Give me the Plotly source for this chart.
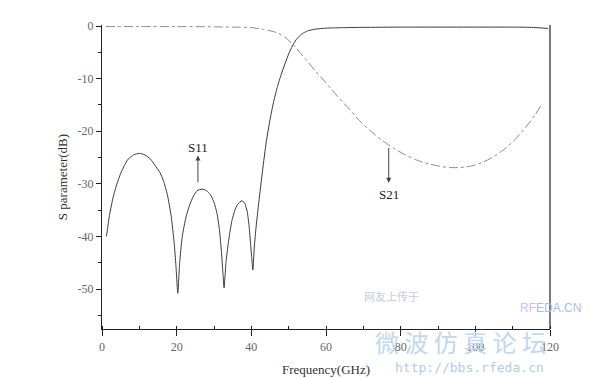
import plotly.graph_objects as go

# S11
s11_f = [1.2, 2, 3, 4, 5, 6, 7, 8.5, 10, 11.5, 13, 14.5, 15.5, 16.5, 17.5, 18.5, 19.3, 19.8, 20.3,
         20.8, 21.5, 22.5, 23.5, 24.5, 25.5, 26.8, 28, 29, 30, 30.8, 31.5, 32, 32.4, 32.7,
         33.2, 33.7, 34.3, 34.8, 35.5, 36.3, 37.5, 38.3, 38.9, 39.4, 39.8, 40.1, 40.4,
         40.8, 41.3, 42, 43, 44, 45, 46, 47, 48, 49, 50, 51, 52, 53, 54, 55, 57, 60, 62, 65,
         70, 80, 90, 100, 110, 115, 119.5]
s11_db = [-40, -36, -32.5, -30, -28, -26.5, -25.3, -24.5, -24.2, -24.5, -25.3, -26.8, -27.8, -29.5, -32, -36, -41, -45.5, -50.8,
          -45, -40, -36.3, -34, -32.3, -31.3, -31, -31.3, -32, -33.5, -35.6, -39, -43, -47, -49.8,
          -45, -42, -39, -37, -35.2, -33.9, -33.2, -33.8, -35.3, -38, -41.5, -44, -46.4,
          -42, -38, -33.5, -27.5, -22, -17.8, -14.3, -11.5, -9.2, -7.2, -5.3, -3.8, -2.6, -1.8, -1.3, -0.95, -0.6, -0.4, -0.35, -0.3,
          -0.25, -0.2, -0.2, -0.2, -0.2, -0.25, -0.45]

# S21
s21_f = [1, 10, 20, 30, 35, 40, 43, 45, 47, 49, 51, 53, 55, 57, 60, 63, 66, 69, 72, 75, 78, 81, 84,
         87, 90, 93, 96, 99, 102, 105, 108, 111, 114, 116, 117.8]
s21_db = [-0.1, -0.1, -0.1, -0.15, -0.2, -0.3, -0.6, -0.9, -1.3, -2.1, -3.4, -5, -6.7, -8.4, -10.8, -13.3, -15.6, -18, -20,
          -21.7, -23.2, -24.4, -25.4, -26.1, -26.6, -26.9, -26.9, -26.6, -25.9, -24.8, -23.3, -21.3, -18.8, -16.9, -14.8]

x_ticks = [0, 20, 40, 60, 80, 100, 120]
y_ticks = [0, -10, -20, -30, -40, -50]

FONT = "Liberation Serif, Times New Roman, serif"

fig = go.Figure()
fig.add_trace(go.Scatter(x=s11_f, y=s11_db, mode="lines", name="S11",
                         line=dict(color="#3a3a3a", width=1, shape="spline", smoothing=0.5)))
fig.add_trace(go.Scatter(x=s21_f, y=s21_db, mode="lines", name="S21",
                         line=dict(color="#8a8a8a", width=1, dash="dashdot", shape="spline", smoothing=0.6)))

# arrows and labels
fig.add_annotation(x=25.7, y=-24.6, ax=25.7, ay=-30.0, xref="x", yref="y", axref="x", ayref="y",
                   text="", showarrow=True, arrowhead=2, arrowsize=1, arrowwidth=1, arrowcolor="#444")
fig.add_annotation(x=25.7, y=-23.0, text="S11", showarrow=False, xref="x", yref="y",
                   font=dict(family=FONT, size=13, color="#222"))
fig.add_annotation(x=76.8, y=-29.8, ax=76.8, ay=-22.9, xref="x", yref="y", axref="x", ayref="y",
                   text="", showarrow=True, arrowhead=2, arrowsize=1, arrowwidth=1, arrowcolor="#444")
fig.add_annotation(x=76.8, y=-32.1, text="S21", showarrow=False, xref="x", yref="y",
                   font=dict(family=FONT, size=13, color="#222"))

# watermark texts
fig.add_annotation(x=0.647, y=0.108, xref="paper", yref="paper", xanchor="center", yanchor="middle",
                   text="网友上传于", showarrow=False,
                   font=dict(family="Noto Sans CJK SC", size=11, color="#c5cde0"))
fig.add_annotation(x=1.0, y=0.069, xref="paper", yref="paper", xanchor="center", yanchor="middle",
                   text="<span style='color:#dcb8f0'>RF</span>EDA.CN",
                   showarrow=False, font=dict(family="Liberation Sans", size=12, color="#a9bde8"))
fig.add_annotation(x=0.80, y=-0.04, xref="paper", yref="paper", xanchor="center", yanchor="middle",
                   text="微 波 仿 真 论 坛", showarrow=False,
                   font=dict(family="Noto Sans CJK SC", size=24, color="#c0d8f0"))
fig.add_annotation(x=0.82, y=-0.125, xref="paper", yref="paper", xanchor="center", yanchor="middle",
                   text="http://bbs.rfeda.cn", showarrow=False,
                   font=dict(family="DejaVu Sans Mono", size=13, color="#b0cce8"))

# right spine
fig.add_shape(type="line", xref="paper", yref="paper", x0=1, x1=1, y0=0, y1=1,
              line=dict(color="#222", width=1.2))

fig.update_layout(
    width=604, height=378,
    margin=dict(l=102, r=54, t=25, b=49),
    paper_bgcolor="white", plot_bgcolor="white",
    showlegend=False,
    font=dict(family=FONT, size=12, color="#555"),
)
fig.update_xaxes(range=[0, 120], tickvals=x_ticks, ticktext=[str(v) for v in x_ticks],
                 automargin=False,
                 showgrid=False, zeroline=False, showline=True, linecolor="#222", linewidth=1.3,
                 ticks="outside", ticklen=6, tickcolor="#222", tickwidth=1,
                 minor=dict(ticks="inside", ticklen=3, dtick=10, tick0=0, tickcolor="#222", showgrid=False),
                 title=dict(text="Frequency(GHz)", font=dict(family=FONT, size=13, color="#333"), standoff=12),
                 tickfont=dict(family=FONT, size=12, color="#666"))
fig.update_yaxes(range=[-57.6, 0.2], tickvals=y_ticks, ticktext=[str(v) for v in y_ticks],
                 automargin=False,
                 showgrid=False, zeroline=False, showline=True, linecolor="#222", linewidth=1.3,
                 ticks="outside", ticklen=5, tickcolor="#222", tickwidth=1,
                 minor=dict(ticks="outside", ticklen=3, dtick=5, tick0=0, tickcolor="#222", showgrid=False),
                 title=dict(text="S parameter(dB)", font=dict(family=FONT, size=13, color="#333"), standoff=6),
                 tickfont=dict(family=FONT, size=12, color="#666"))

fig.write_html("out.html")
